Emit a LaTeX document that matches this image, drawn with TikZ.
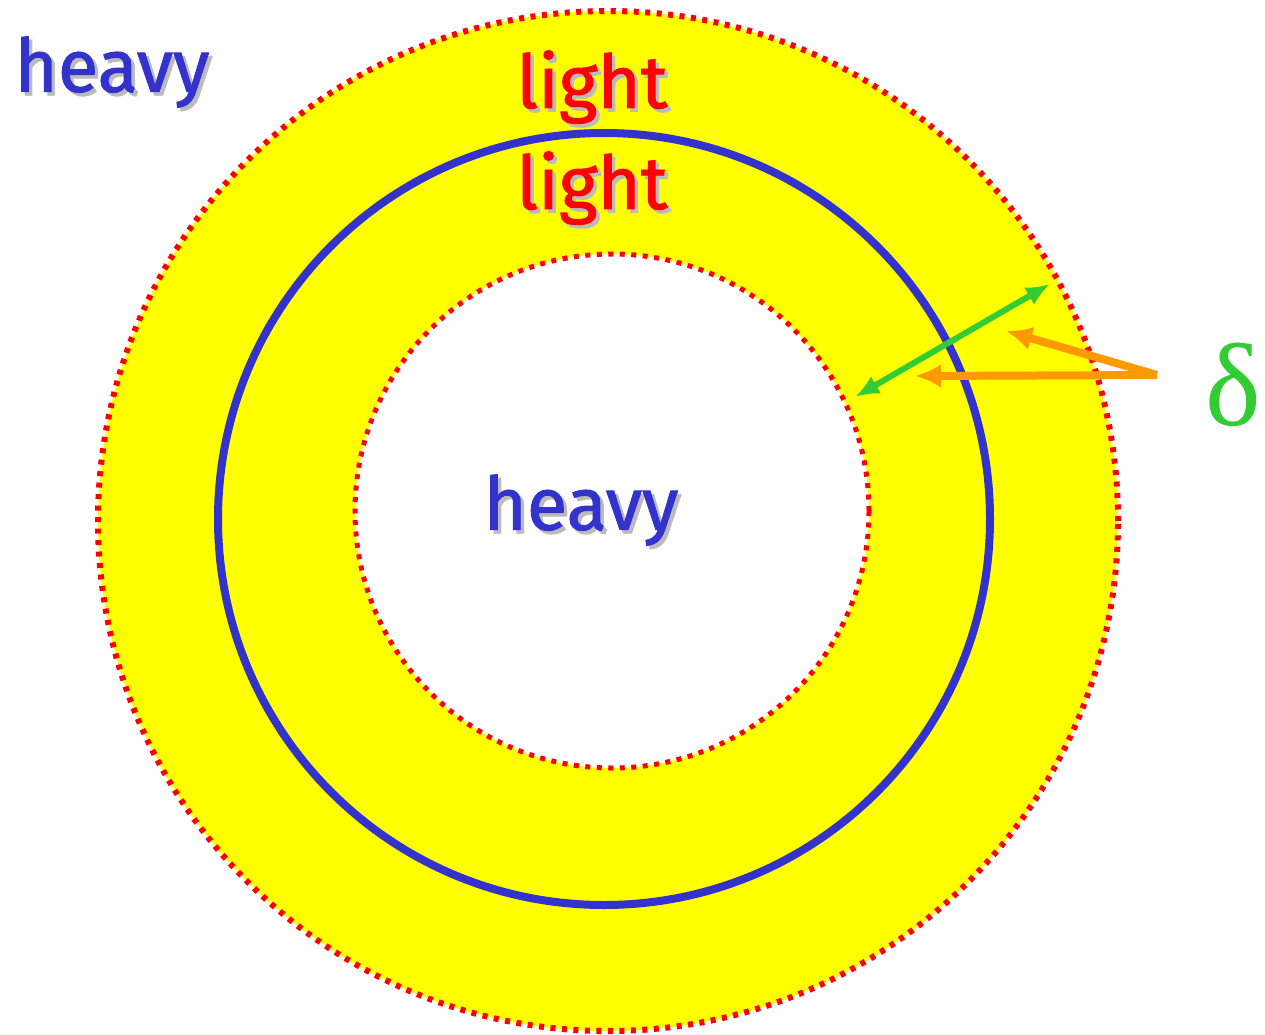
\documentclass[tikz,border=0pt]{standalone}
\usepackage{fontspec}
\setmainfont{Fira Sans}[FakeBold=1.2]
\newfontfamily\deltafont{Liberation Serif}
\usetikzlibrary{arrows.meta}
\definecolor{myblue}{HTML}{3333CC}
\definecolor{myred}{HTML}{FF0000}
\definecolor{myyellow}{HTML}{FFFF00}
\definecolor{mygreen}{HTML}{33CC33}
\definecolor{myorange}{HTML}{FF9900}
\definecolor{shadowgray}{HTML}{BBBBBB}
\tikzset{
  reddots/.style={draw=myred, line width=6pt, dash pattern=on 5pt off 6.5pt},
  bluering/.style={draw=myblue, line width=8pt},
  greenarrow/.style={draw=mygreen, line width=6pt, {Latex[length=24pt,width=20pt]}-{Latex[length=24pt,width=20pt]}},
  orangearrow/.style={draw=myorange, line width=8pt, -{Latex[length=26pt,width=24pt]}},
  wordbase/.style={inner sep=0pt, font=\fontsize{74}{80}\selectfont},
  shadow/.style={wordbase, text=shadowgray},
}
\newcommand{\shadowword}[4]{%
  \node[shadow] (#1s) at ([shift={(3.5,3.5)}]#2) {#4};
  \node[wordbase, text=#3] (#1) at (#2) {#4};
}
\begin{document}
\begin{tikzpicture}[x=1pt,y=-1pt]
\useasboundingbox (0,0) rectangle (1265,1035);
\fill[white] (0,0) rectangle (1265,1035);
% yellow annulus
\coordinate (co) at (608,521);
\coordinate (ci) at (612,511);
\coordinate (cb) at (604,519);
\fill[myyellow, even odd rule] (co) circle (510) (ci) circle (257);
\node[circle, minimum size=1020pt, inner sep=0pt, reddots] (outer) at (co) {};
\node[circle, minimum size=772pt, inner sep=0pt, bluering] (blue) at (cb) {};
\node[circle, minimum size=514pt, inner sep=0pt, reddots, line width=5pt] (inner) at (ci) {};
% texts
\shadowword{h1}{112,72}{myblue}{heavy}
\shadowword{l1}{592,87}{myred}{light}
\shadowword{l2}{592,188}{myred}{light}
\shadowword{h2}{581,510}{myblue}{heavy}
\node[inner sep=0pt, text=mygreen, font=\deltafont\fontsize{118}{120}\selectfont] (delta) at (1233,385) {δ};
% arrows
\coordinate (ga) at (855,397);
\coordinate (gb) at (1050,284);
\draw[greenarrow] (ga) -- (gb);
\coordinate (apex) at (1157,375);
\coordinate (oa) at (1006,331);
\coordinate (ob) at (915,376);
\draw[orangearrow] (apex) -- (oa);
\draw[orangearrow] (apex) -- (ob);
\end{tikzpicture}
\end{document}
